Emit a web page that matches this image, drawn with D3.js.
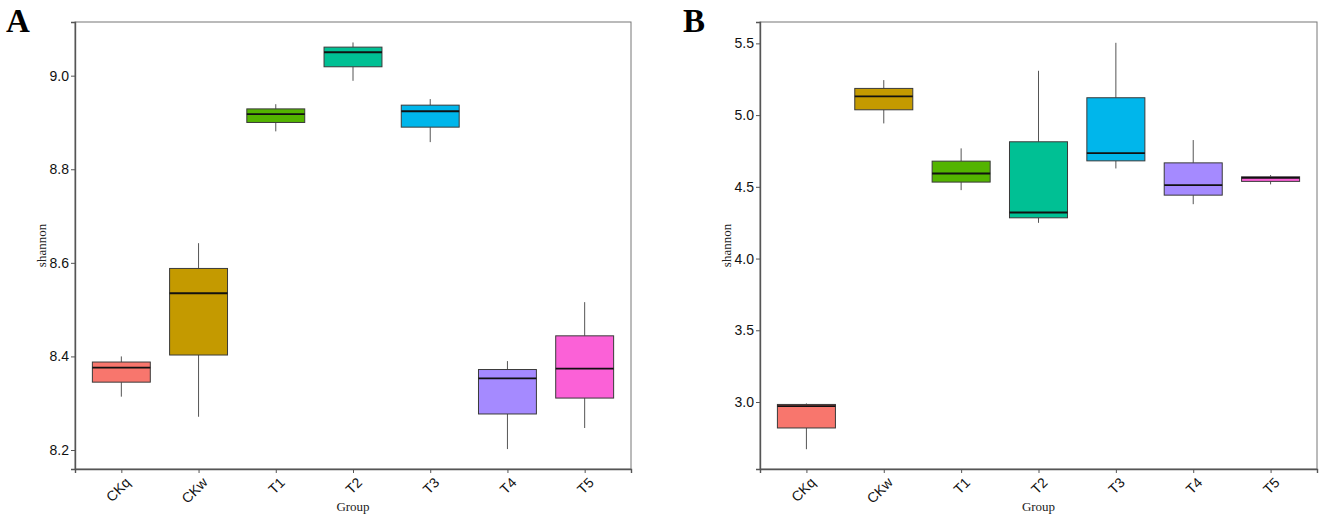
<!DOCTYPE html>
<html><head><meta charset="utf-8">
<script src="https://cdn.jsdelivr.net/npm/d3@7/dist/d3.min.js"></script>
<style>body{margin:0;background:#fff}svg{display:block}</style>
</head><body>
<svg id="chart" width="1325" height="519"></svg>
<script>
const groups = ["CKq","CKw","T1","T2","T3","T4","T5"];
const colors = ["#F8766D","#C49A00","#53B400","#00C094","#00B6EB","#A58AFF","#FB61D7"];
// [whiskerLow, Q1, median, Q3, whiskerHigh]
const statsA = [
  [8.314, 8.345, 8.376, 8.388, 8.400],
  [8.271, 8.403, 8.535, 8.588, 8.642],
  [8.881, 8.900, 8.918, 8.929, 8.939],
  [8.989, 9.019, 9.050, 9.061, 9.071],
  [8.858, 8.890, 8.924, 8.937, 8.950],
  [8.202, 8.277, 8.353, 8.372, 8.390],
  [8.247, 8.311, 8.374, 8.444, 8.516]
];
const statsB = [
  [2.671, 2.819, 2.971, 2.983, 2.990],
  [4.942, 5.037, 5.130, 5.186, 5.244],
  [4.477, 4.533, 4.593, 4.679, 4.768],
  [4.249, 4.284, 4.321, 4.814, 5.309],
  [4.628, 4.681, 4.735, 5.121, 5.504],
  [4.379, 4.442, 4.512, 4.667, 4.826],
  [4.517, 4.538, 4.563, 4.570, 4.582]
];
const ticksA = [8.2, 8.4, 8.6, 8.8, 9.0];
const ticksB = [3.0, 3.5, 4.0, 4.5, 5.0, 5.5];

const svg = d3.select("#chart");

function panel(opts) {
  const {x0, x1, y0, y1, domain, ticks, stats, label} = opts;
  const g = svg.append("g");
  const xs = d3.scalePoint().domain(groups).range([x0, x1]).padding(0.6);
  const step = xs.step();
  const ys = d3.scaleLinear().domain(domain).range([y1, y0]);

  g.append("rect").attr("x", x0).attr("y", y0).attr("width", x1 - x0).attr("height", y1 - y0)
    .attr("fill", "none").attr("stroke", "#777").attr("stroke-width", 1);

  const ya = g.append("g").attr("transform", `translate(${x0},0)`)
    .call(d3.axisLeft(ys).tickValues(ticks).tickFormat(d3.format(".1f")).tickSize(4).tickPadding(2));
  const xa = g.append("g").attr("transform", `translate(0,${y1})`)
    .call(d3.axisBottom(xs).tickSize(4).tickPadding(2));
  [ya, xa].forEach(a => {
    a.select(".domain").attr("stroke", "#555").attr("stroke-width", 1.4);
    a.selectAll(".tick line").attr("stroke", "#555");
    a.selectAll("text").attr("fill", "#111").style("font-family", "Liberation Sans, Arial, sans-serif").style("font-size", "14px");
  });
  xa.selectAll("text").attr("text-anchor", "end").attr("dy", "0.35em")
    .attr("transform", "translate(6,11) rotate(-45)").attr("y", 0).attr("x", 0);

  const bw = step * 0.75;
  groups.forEach((grp, i) => {
    const s = stats[i];
    const cx = xs(grp);
    g.append("line").attr("x1", cx).attr("x2", cx).attr("y1", ys(s[4])).attr("y2", ys(s[3]))
      .attr("stroke", "#555").attr("stroke-width", 1);
    g.append("line").attr("x1", cx).attr("x2", cx).attr("y1", ys(s[1])).attr("y2", ys(s[0]))
      .attr("stroke", "#555").attr("stroke-width", 1);
    g.append("rect").attr("x", cx - bw / 2).attr("width", bw)
      .attr("y", ys(s[3])).attr("height", ys(s[1]) - ys(s[3]))
      .attr("fill", colors[i]).attr("stroke", "#3a3a3a").attr("stroke-width", 1);
    g.append("line").attr("x1", cx - bw / 2).attr("x2", cx + bw / 2).attr("y1", ys(s[2])).attr("y2", ys(s[2]))
      .attr("stroke", "#111").attr("stroke-width", 1.8);
  });

  g.append("text").attr("x", (x0 + x1) / 2).attr("y", 511).attr("text-anchor", "middle")
    .style("font-family", "Liberation Serif, Times New Roman, serif").style("font-size", "13px").attr("fill", "#222")
    .text("Group");
  g.append("text").attr("transform", `translate(${x0 - 29},${(y0 + y1) / 2}) rotate(-90)`).attr("text-anchor", "middle")
    .style("font-family", "Liberation Serif, Times New Roman, serif").style("font-size", "13px").attr("fill", "#222")
    .text("shannon");

  g.append("text").attr("x", opts.lx).attr("y", 32)
    .style("font-family", "Liberation Serif, Times New Roman, serif").style("font-size", "33px")
    .style("font-weight", "bold").attr("fill", "#000").text(label);
}

panel({x0: 75, x1: 631, y0: 22, y1: 469, domain: [8.1594, 9.1147], ticks: ticksA, stats: statsA, label: "A", lx: 6});
panel({x0: 760, x1: 1317, y0: 22, y1: 469, domain: [2.533, 5.649], ticks: ticksB, stats: statsB, label: "B", lx: 683});
</script>
</body></html>
